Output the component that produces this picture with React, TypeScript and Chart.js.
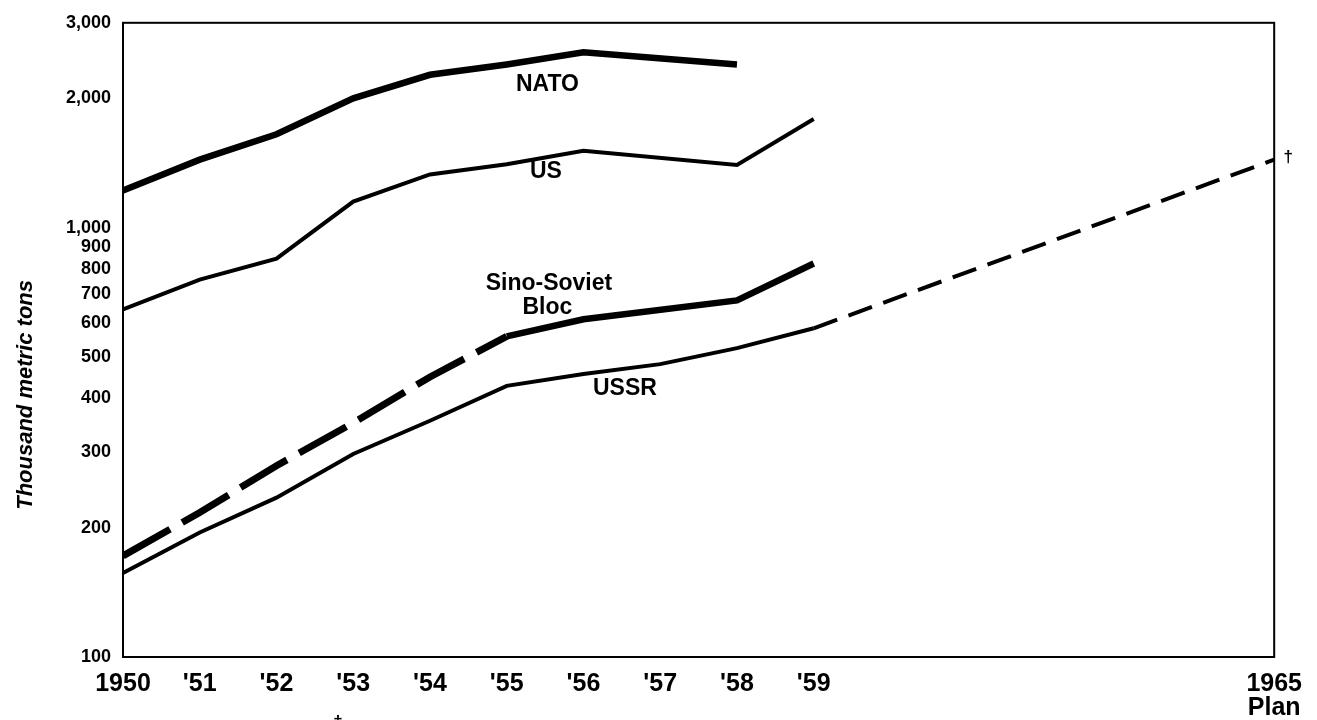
import React, { useEffect, useRef } from 'react';
import { Chart, registerables } from 'chart.js';

Chart.register(...registerables);

// ---- Data ----
const natoYears = [1950, 1951, 1952, 1953, 1954, 1955, 1956, 1958];
const natoValues = [1220, 1440, 1650, 2000, 2270, 2400, 2560, 2400];

const usYears = [1950, 1951, 1952, 1953, 1954, 1955, 1956, 1958, 1959];
const usValues = [645, 757, 847, 1150, 1330, 1405, 1510, 1400, 1790];

const blocYears = [1950, 1951, 1952, 1953, 1954, 1955, 1956, 1958, 1959];
const blocValues = [172, 217, 279, 351, 449, 558, 612, 677, 825];
const blocEstimatedUntil = 1955; // dashed (estimated) part ends here

const ussrYears = [1950, 1951, 1952, 1953, 1954, 1955, 1956, 1957, 1958, 1959, 1965];
const ussrValues = [157, 195, 235, 297, 355, 428, 456, 481, 524, 583, 1440];
const ussrPlanFrom = 1959; // dashed (plan) part starts here

const xTickValues = [1950, 1951, 1952, 1953, 1954, 1955, 1956, 1957, 1958, 1959, 1965];
const xTickLabels: (string | string[])[] = ['1950', "'51", "'52", "'53", "'54", "'55", "'56", "'57", "'58", "'59", ['1965', 'Plan']];

const yTickValues = [100, 200, 300, 400, 500, 600, 700, 800, 900, 1000, 2000, 3000];
const yTickLabels = ['100', '200', '300', '400', '500', '600', '700', '800', '900', '1,000', '2,000', '3,000'];

const axisTitle = 'Thousand metric tons';

// series name labels, in data coordinates
const seriesNames = [
  { text: 'NATO', x: 1955.53, y: 2158 },
  { text: 'US', x: 1955.51, y: 1349 },
  { text: 'Sino-Soviet', x: 1955.55, y: 742 },
  { text: 'Bloc', x: 1955.53, y: 652 },
  { text: 'USSR', x: 1956.54, y: 421 },
];

const toPoints = (xs: number[], ys: number[]) => xs.map((x, i) => ({ x, y: ys[i] }));

const FONT = '"Liberation Sans", Arial, sans-serif';

const decorPlugin = {
  id: 'decor',
  beforeDatasetsDraw(chart: any) {
    const { ctx, chartArea: a } = chart;
    ctx.save();
    ctx.strokeStyle = '#000';
    ctx.lineWidth = 2;
    ctx.strokeRect(a.left, a.top, a.right - a.left, a.bottom - a.top);
    ctx.restore();
  },
  afterDraw(chart: any) {
    const { ctx, chartArea: a, scales } = chart;
    const xs = scales.x;
    const ys = scales.y;
    ctx.save();
    ctx.fillStyle = '#000';
    ctx.textAlign = 'center';
    ctx.textBaseline = 'middle';
    ctx.font = `bold 23px ${FONT}`;
    for (const n of seriesNames) {
      ctx.fillText(n.text, xs.getPixelForValue(n.x), ys.getPixelForValue(n.y));
    }
    // daggers
    ctx.font = `bold 17px ${FONT}`;
    const lastX = ussrYears[ussrYears.length - 1];
    const lastY = ussrValues[ussrValues.length - 1];
    ctx.fillText('\u2020', xs.getPixelForValue(lastX) + 14, ys.getPixelForValue(lastY) - 2);
    ctx.fillText('\u2020', xs.getPixelForValue(1952.8), a.bottom + 65);
    // y axis title
    ctx.font = `bold italic 22px ${FONT}`;
    ctx.translate(26, (a.top + a.bottom) / 2 + 55);
    ctx.rotate(-Math.PI / 2);
    ctx.fillText(axisTitle, 0, 0);
    ctx.restore();
  },
};

export default function App() {
  const ref = useRef<HTMLCanvasElement | null>(null);

  useEffect(() => {
    document.body.style.margin = '0';
    const canvas = ref.current;
    if (!canvas) return;
    const chart = new Chart(canvas, {
      type: 'line',
      data: {
        datasets: [
          {
            label: 'NATO',
            data: toPoints(natoYears, natoValues),
            borderColor: '#000',
            borderWidth: 6.5,
            pointRadius: 0,
            tension: 0,
            borderCapStyle: 'butt',
            borderJoinStyle: 'miter',
          },
          {
            label: 'US',
            data: toPoints(usYears, usValues),
            borderColor: '#000',
            borderWidth: 4,
            pointRadius: 0,
            tension: 0,
          },
          {
            label: 'Sino-Soviet Bloc',
            data: toPoints(blocYears, blocValues),
            borderColor: '#000',
            borderWidth: 6.5,
            pointRadius: 0,
            tension: 0,
            segment: {
              borderDash: (c: any) => (c.p1.parsed.x <= blocEstimatedUntil ? [54, 14] : undefined),
              borderWidth: (c: any) => (c.p1.parsed.x <= blocEstimatedUntil ? 7 : 6.5),
            },
          },
          {
            label: 'USSR',
            data: toPoints(ussrYears, ussrValues),
            borderColor: '#000',
            borderWidth: 4,
            pointRadius: 0,
            tension: 0,
            segment: {
              borderDash: (c: any) => (c.p0.parsed.x >= ussrPlanFrom ? [25, 12] : undefined),
            },
          },
        ],
      },
      options: {
        animation: false,
        responsive: false,
        maintainAspectRatio: false,
        layout: { padding: { top: 20, right: 42, left: 0, bottom: 0 } },
        plugins: {
          legend: { display: false },
          tooltip: { enabled: false },
          title: { display: false },
        },
        scales: {
          x: {
            type: 'linear',
            min: 1950,
            max: 1965,
            grid: { display: false, drawTicks: false },
            border: { display: false },
            afterBuildTicks: (s: any) => {
              s.ticks = xTickValues.map((v) => ({ value: v }));
            },
            afterFit: (s: any) => {
              s.height = 63;
            },
            ticks: {
              autoSkip: false,
              maxRotation: 0,
              minRotation: 0,
              padding: 15,
              color: '#000',
              font: { family: FONT, size: 25, weight: 'bold', lineHeight: 0.95 },
              callback: (v: any) => {
                const i = xTickValues.indexOf(Number(v));
                return i >= 0 ? xTickLabels[i] : '';
              },
            },
          },
          y: {
            type: 'logarithmic',
            min: 100,
            max: 3000,
            grid: { display: false, drawTicks: false },
            border: { display: false },
            afterBuildTicks: (s: any) => {
              s.ticks = yTickValues.map((v) => ({ value: v }));
            },
            afterFit: (s: any) => {
              s.width = 123;
            },
            ticks: {
              autoSkip: false,
              padding: 12,
              color: '#000',
              font: { family: FONT, size: 18, weight: 'bold' },
              callback: (v: any) => {
                const i = yTickValues.indexOf(Number(v));
                return i >= 0 ? yTickLabels[i] : '';
              },
            },
          },
        },
      },
      plugins: [decorPlugin],
    } as any);
    return () => chart.destroy();
  }, []);

  return (
    <div style={{ width: 1317, height: 720, overflow: 'hidden', background: '#fff' }}>
      <canvas ref={ref} width={1317} height={720} style={{ display: 'block' }} />
    </div>
  );
}
